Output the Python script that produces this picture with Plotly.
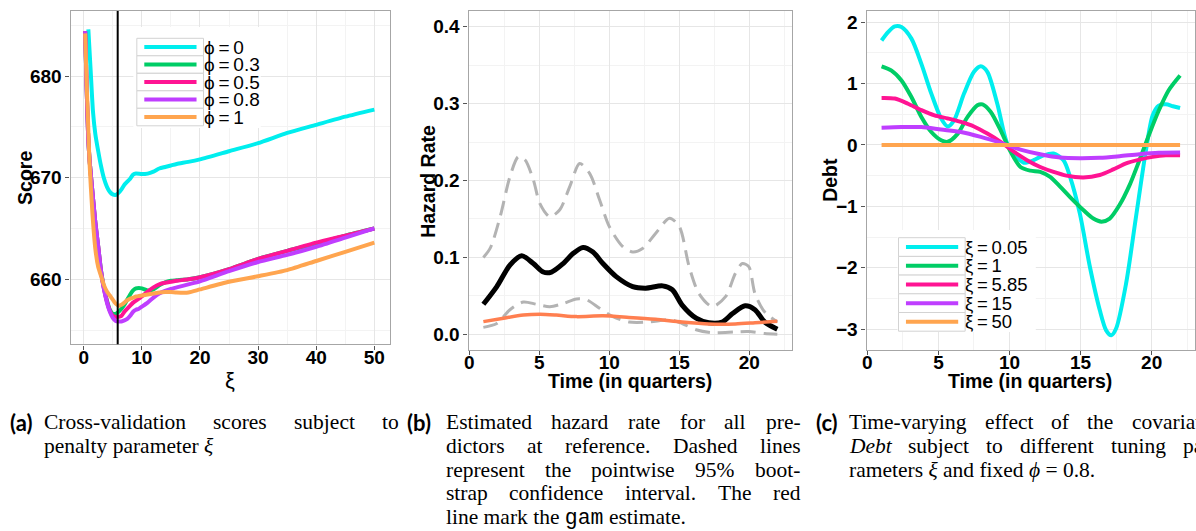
import plotly.graph_objects as go

W, H = 1196, 531

# ---------------- (a) cross-validation scores ----------------
xi_grid = [0.25, 0.5, 0.75, 1.0, 1.5, 2.0, 2.5, 3.0, 3.5, 4.0, 4.5, 5.0, 5.5, 6.0, 6.5,
           7.0, 7.5, 8.0, 8.5, 9.0, 9.5, 10, 11, 12, 13, 14, 15, 16, 18, 20,
           25, 30, 35, 40, 45, 50]
score_phi03 = [684.4, 679.0, 674.4, 671.8, 668.6, 665.6, 663.2, 660.8, 659.1, 657.9, 657.0,
               656.6, 656.6, 656.8, 657.1, 657.5, 658.0, 658.5, 658.9, 659.1, 659.15, 659.1,
               658.9, 659.0, 659.4, 659.7, 659.85, 659.9, 660.0, 660.2,
               661.0, 662.0, 662.8, 663.5, 664.3, 665.0]
score_phi05 = [684.4, 679.0, 674.4, 671.8, 668.6, 665.6, 663.2, 660.7, 659.0, 657.8, 656.9,
               656.4, 656.3, 656.3, 656.4, 656.8, 657.1, 657.4, 657.7, 657.9, 658.1, 658.3,
               658.8, 659.2, 659.5, 659.65, 659.75, 659.85, 660.0, 660.2,
               661.0, 662.0, 662.8, 663.6, 664.3, 665.0]
score_phi08 = [684.4, 679.0, 674.4, 671.8, 668.6, 665.6, 663.2, 660.7, 659.0, 657.7, 656.8,
               656.2, 655.9, 655.85, 655.85, 655.95, 656.1, 656.4, 656.8, 657.0, 657.1, 657.3,
               657.7, 658.2, 658.6, 658.85, 659.05, 659.2, 659.5, 659.8,
               660.8, 661.7, 662.4, 663.2, 664.1, 665.0]
score_phi1 = [684.2, 679.5, 675.5, 671.5, 666.5, 663.0, 661.2, 660.3, 659.4, 658.8, 658.4,
              658.0, 657.6, 657.4, 657.5, 657.7, 657.95, 658.1, 658.2, 658.3, 658.35, 658.4,
              658.5, 658.6, 658.7, 658.75, 658.75, 658.7, 658.7, 659.0,
              659.75, 660.3, 660.9, 661.8, 662.7, 663.6]
xi_phi0 = [0.8, 1.2, 1.6, 2.0, 2.5, 3.0, 3.5, 4.0, 4.5, 5.0, 5.5, 6.0, 6.5, 7.0, 7.5, 8.0,
           8.5, 9.0, 10, 11, 12, 13, 14, 15, 16, 18, 20, 25, 30, 35, 40, 45, 50]
score_phi0 = [684.6, 680.5, 676.5, 674.3, 672.6, 671.1, 669.9, 669.1, 668.6, 668.35, 668.3,
              668.5, 668.85, 669.3, 669.6, 669.9, 670.3, 670.4, 670.35, 670.4, 670.6, 670.9,
              671.05, 671.2, 671.35, 671.55, 671.8, 672.6, 673.4, 674.4, 675.2, 676.0, 676.7]
xi_selected = 5.85
phi_labels = ["ϕ\u2009=\u20090", "ϕ\u2009=\u20090.3", "ϕ\u2009=\u20090.5",
              "ϕ\u2009=\u20090.8", "ϕ\u2009=\u20091"]

# ---------------- (b) hazard rate ----------------
t_est = [1.0, 1.96, 2.9, 3.74, 4.57, 5.28, 5.87, 6.7, 7.4, 8.12, 8.83, 9.54, 10.49, 11.67,
         12.6, 13.8, 14.5, 15.2, 16.2, 17.1, 18.06, 18.8, 19.7, 20.4, 21.1, 22.0]
hz_est = [0.039, 0.062, 0.090, 0.102, 0.092, 0.081, 0.081, 0.092, 0.105, 0.113, 0.107,
          0.092, 0.075, 0.062, 0.060, 0.063, 0.058, 0.038, 0.021, 0.015, 0.016, 0.027,
          0.037, 0.032, 0.016, 0.0065]
t_up = [1.0, 1.49, 2.2, 2.9, 3.5, 3.97, 4.57, 5.04, 5.75, 6.46, 7.17, 7.88, 8.6, 9.3, 10.0,
        10.96, 11.67, 12.4, 13.3, 14.3, 15.0, 15.7, 16.4, 17.35, 18.3, 19.0, 19.5, 19.96,
        20.4, 21.1, 22.0]
hz_up = [0.100, 0.112, 0.153, 0.205, 0.231, 0.227, 0.201, 0.170, 0.153, 0.162, 0.192,
         0.222, 0.209, 0.175, 0.140, 0.114, 0.107, 0.112, 0.131, 0.151, 0.140, 0.088,
         0.053, 0.036, 0.049, 0.079, 0.092, 0.088, 0.053, 0.029, 0.016]
t_low = [1.0, 1.96, 2.9, 3.86, 4.8, 5.75, 6.7, 7.65, 8.36, 9.3, 10.25, 11.4, 12.85, 14.3,
         15.2, 16.2, 17.35, 19.0, 19.96, 21.1, 22.0]
hz_low = [0.009, 0.014, 0.032, 0.042, 0.039, 0.036, 0.040, 0.046, 0.045, 0.034, 0.023,
          0.016, 0.016, 0.019, 0.014, 0.006, 0.002, 0.003, 0.0035, 0.001, 0.0]
t_gam = [1.0, 2.44, 3.86, 5.04, 6.2, 7.65, 9.54, 11.4, 13.3, 15.2, 17.1, 19.0, 20.4, 22.0]
hz_gam = [0.0165, 0.021, 0.025, 0.026, 0.025, 0.023, 0.024, 0.022, 0.0195, 0.016, 0.0134,
          0.0134, 0.015, 0.017]

# ---------------- (c) time-varying Debt effect ----------------
t_x005 = [1.0, 1.47, 1.93, 2.4, 3.1, 3.8, 4.5, 5.19, 5.65, 6.1, 6.8, 7.5, 7.98, 8.44, 9.14,
          9.84, 10.5, 11.0, 11.7, 12.4, 13.1, 13.8, 14.26, 14.95, 15.65, 16.35, 16.8, 17.16,
          17.5, 18.2, 18.9, 19.6, 20.07, 20.5, 21.0, 21.5, 22.0]
debt_x005 = [1.70, 1.84, 1.93, 1.92, 1.73, 1.32, 0.835, 0.43, 0.30, 0.40, 0.835, 1.19, 1.28,
             1.19, 0.67, 0.02, -0.195, -0.29, -0.25, -0.17, -0.14, -0.25, -0.52, -1.12,
             -1.98, -2.69, -3.02, -3.10, -2.99, -2.26, -1.17, -0.087, 0.48, 0.64, 0.66, 0.63,
             0.60]
t_x1 = [1.0, 1.7, 2.4, 3.1, 3.8, 4.5, 5.19, 5.65, 6.35, 7.05, 7.74, 8.1, 8.67, 9.37, 10.07,
        10.77, 11.47, 12.16, 12.86, 13.56, 14.26, 15.19, 15.9, 16.47, 17.05, 17.74, 18.44,
        19.14, 19.84, 20.5, 21.2, 22.0]
debt_x1 = [1.28, 1.21, 1.05, 0.78, 0.455, 0.21, 0.076, 0.05, 0.18, 0.455, 0.645, 0.66, 0.54,
           0.24, -0.11, -0.36, -0.42, -0.44, -0.52, -0.68, -0.85, -1.06, -1.20, -1.25, -1.20,
           -0.98, -0.66, -0.25, 0.18, 0.56, 0.89, 1.13]
t_x585 = [1.0, 1.93, 2.86, 3.8, 4.72, 5.65, 6.58, 7.5, 8.44, 9.37, 10.3, 11.23, 12.16, 13.1,
          14.0, 15.2, 16.35, 17.3, 18.2, 19.14, 20.07, 21.0, 22.0]
debt_x585 = [0.765, 0.755, 0.67, 0.565, 0.48, 0.43, 0.374, 0.30, 0.184, 0.049, -0.11, -0.25,
             -0.36, -0.44, -0.50, -0.53, -0.49, -0.40, -0.30, -0.24, -0.195, -0.17, -0.17]
t_x15 = [1.0, 2.4, 3.8, 5.19, 6.58, 7.98, 9.37, 10.77, 12.16, 13.56, 14.95, 16.35, 17.74,
         19.14, 20.5, 22.0]
debt_x15 = [0.28, 0.29, 0.29, 0.25, 0.21, 0.13, 0.033, -0.076, -0.152, -0.206, -0.217, -0.21,
            -0.184, -0.152, -0.13, -0.125]
t_x50 = [1.0, 22.0]
debt_x50 = [0.0, 0.0]
xi_labels = ["ξ\u2009=\u20090.05", "ξ\u2009=\u20091", "ξ\u2009=\u20095.85",
             "ξ\u2009=\u200915", "ξ\u2009=\u200950"]

COLORS = ["#00EEEE", "#00CD66", "#FF1493", "#BF3EFF", "#FFA54F"]
CORAL = "#FF7F50"
CI_GREY = "#B3B3B3"

fig = go.Figure()

# panel (a)
series_a = [(xi_phi0, score_phi0), (xi_grid, score_phi03), (xi_grid, score_phi05),
            (xi_grid, score_phi08), (xi_grid, score_phi1)]
for (xs, ys), col in zip(series_a, COLORS):
    fig.add_trace(go.Scatter(x=xs, y=ys, mode="lines", xaxis="x", yaxis="y",
                             line=dict(color=col, width=4, shape="spline", smoothing=0.6)))

# panel (b)
for ts, hs in [(t_up, hz_up), (t_low, hz_low)]:
    fig.add_trace(go.Scatter(x=ts, y=hs, mode="lines", xaxis="x2", yaxis="y2",
                             line=dict(color=CI_GREY, width=3, dash="15px,8px",
                                       shape="spline", smoothing=0.8)))
fig.add_trace(go.Scatter(x=t_est, y=hz_est, mode="lines", xaxis="x2", yaxis="y2",
                         line=dict(color="black", width=5, shape="spline", smoothing=0.8)))
fig.add_trace(go.Scatter(x=t_gam, y=hz_gam, mode="lines", xaxis="x2", yaxis="y2",
                         line=dict(color=CORAL, width=3.5, shape="spline", smoothing=0.8)))

# panel (c)
series_c = [(t_x005, debt_x005), (t_x1, debt_x1), (t_x585, debt_x585),
            (t_x15, debt_x15), (t_x50, debt_x50)]
for (ts, ds), col in zip(series_c, COLORS):
    fig.add_trace(go.Scatter(x=ts, y=ds, mode="lines", xaxis="x3", yaxis="y3",
                             line=dict(color=col, width=4, shape="spline", smoothing=0.8)))


def px(x):
    return x / W


def py(y):
    return 1 - y / H


GRID = "#E6E6E6"
MINOR = "#F3F3F3"
FRAME = "#A6A6A6"
TICKFONT = dict(family="Liberation Sans", size=19, color="black", weight="bold")


def axis(domain, rng, tickvals, minor_dtick, standoff, fmt=None):
    d = dict(domain=domain, range=rng, tickvals=tickvals, showgrid=True, gridcolor=GRID,
             gridwidth=1.4, zeroline=False, showline=True, mirror=True, linecolor=FRAME,
             linewidth=1.4, ticks="outside", ticklen=4, tickwidth=1.2, tickcolor="#555555",
             tickfont=TICKFONT, ticklabelstandoff=standoff,
             minor=dict(dtick=minor_dtick, tick0=0, showgrid=True, gridcolor=MINOR,
                        gridwidth=1, ticks=""))
    if fmt:
        d["tickformat"] = fmt
    return d


fig.update_layout(
    width=W, height=H, margin=dict(l=0, r=0, t=0, b=0),
    paper_bgcolor="white", plot_bgcolor="white", showlegend=False,
    xaxis=axis([px(66), px(387)], [-2.24, 52.7], [0, 10, 20, 30, 40, 50], 5, -8),
    yaxis=axis([py(344.3), py(11)], [653.6, 686.4], [660, 670, 680], 5, 0),
    xaxis2=axis([px(466), px(791)], [-0.05, 23.05], [0, 5, 10, 15, 20], 2.5, -9),
    yaxis2=axis([py(350), py(11)], [-0.0204, 0.4204], [0, 0.1, 0.2, 0.3, 0.4], 0.05, 0,
                ".1f"),
    xaxis3=axis([px(866), 1.0], [-0.05, 23.05], [0, 5, 10, 15, 20], 2.5, -9),
    yaxis3=axis([py(350), py(11)], [-3.34, 2.18], [-3, -2, -1, 0, 1, 2], 0.5, 0),
)
fig.layout.yaxis.anchor = "x"
fig.layout.xaxis.anchor = "y"
fig.layout.xaxis2.anchor = "y2"
fig.layout.yaxis2.anchor = "x2"
fig.layout.xaxis3.anchor = "y3"
fig.layout.yaxis3.anchor = "x3"

shapes = []
annotations = []

# chosen penalty parameter
shapes.append(dict(type="line", xref="x", yref="y domain", x0=xi_selected, x1=xi_selected,
                   y0=0, y1=1, line=dict(color="black", width=2)))


def legend(bg, box_x0, box_x1, top, row_h, labels, fsize):
    shapes.append(dict(type="rect", xref="paper", yref="paper", x0=px(bg[0]), x1=px(bg[1]),
                       y0=py(bg[3]), y1=py(bg[2]), fillcolor="white", line=dict(width=0)))
    for i, (lab, col) in enumerate(zip(labels, COLORS)):
        y0 = top + i * row_h
        shapes.append(dict(type="rect", xref="paper", yref="paper", x0=px(box_x0),
                           x1=px(box_x1), y0=py(y0 + row_h), y1=py(y0), fillcolor="white",
                           line=dict(color="#D3D3D3", width=1)))
        yc = y0 + row_h / 2
        shapes.append(dict(type="line", xref="paper", yref="paper", x0=px(box_x0 + 7.5),
                           x1=px(box_x1 - 7), y0=py(yc), y1=py(yc),
                           line=dict(color=col, width=4)))
        annotations.append(dict(xref="paper", yref="paper", x=px(box_x1 - 1), y=py(yc),
                                xanchor="left", yanchor="middle", showarrow=False, text=lab,
                                borderpad=0, font=dict(family="Liberation Sans", size=fsize,
                                                       color="black")))


legend((129, 257, 27, 128), 132.5, 199.5, 38.3, 17.5, phi_labels, 19)
legend((897, 1036, 230, 332), 898, 965, 237.7, 18.7, xi_labels, 18.5)

# axis titles
TITLE = dict(family="Liberation Sans", size=19.5, color="black", weight="bold")
annotations += [
    dict(xref="paper", yref="paper", x=px(19.5), y=py(177.5), text="Score", textangle=-90,
         showarrow=False, font=TITLE, xanchor="center", yanchor="middle"),
    dict(xref="paper", yref="paper", x=px(226), y=py(380), text="ξ", showarrow=False,
         font=dict(family="Liberation Sans", size=22, color="black"),
         xanchor="center", yanchor="middle"),
    dict(xref="paper", yref="paper", x=px(425), y=py(181), text="Hazard Rate",
         textangle=-90, showarrow=False, font=TITLE, xanchor="center", yanchor="middle"),
    dict(xref="paper", yref="paper", x=px(628.5), y=py(381), text="Time (in quarters)",
         showarrow=False, font=TITLE, xanchor="center", yanchor="middle"),
    dict(xref="paper", yref="paper", x=px(829), y=py(180), text="Debt", textangle=-90,
         showarrow=False, font=TITLE, xanchor="center", yanchor="middle"),
    dict(xref="paper", yref="paper", x=px(1030.5), y=py(381), text="Time (in quarters)",
         showarrow=False, font=TITLE, xanchor="center", yanchor="middle"),
]

# ---------------- sub-figure captions (justified paragraphs) ----------------
CAP_SIZE = 21.5
CAP = dict(family="Liberation Serif", size=CAP_SIZE, color="black")
TAG = dict(family="Lato", size=22, color="black", weight="bold")
TEXT_SHIFT = -5  # annotation boxes carry a few px of inner padding
TAG_SHIFT = -2

# approximate serif advance widths (per 1000 em) used to space justified words
SERIF_W = {
    " ": 250, "a": 444, "b": 500, "c": 444, "d": 500, "e": 444, "f": 333, "g": 500,
    "h": 500, "i": 278, "j": 278, "k": 500, "l": 278, "m": 778, "n": 500, "o": 500,
    "p": 500, "q": 500, "r": 333, "s": 389, "t": 278, "u": 500, "v": 500, "w": 722,
    "x": 500, "y": 500, "z": 444, "C": 667, "D": 722, "E": 611, "T": 611, "-": 333,
    ".": 250, "%": 833, "=": 564, "(": 333, ")": 333, "ξ": 440, "ϕ": 520,
}


def word_width(word):
    return sum(SERIF_W.get(ch, 500) for ch in word) * CAP_SIZE / 1000


def caption_line(words, x_left, x_right, y, justify):
    """Lay out one caption line, spreading the words over [x_left, x_right]."""
    plain = [w.replace("<i>", "").replace("</i>", "") for w in words]
    if not justify:
        annotations.append(dict(xref="paper", yref="paper", x=px(x_left + TEXT_SHIFT),
                                y=py(y), text=" ".join(words), showarrow=False,
                                xanchor="left", yanchor="middle", font=CAP))
        return
    widths = [word_width(w) for w in plain]
    gap = (x_right - x_left - sum(widths)) / (len(words) - 1)
    x = x_left
    for w, wd in zip(words, widths):
        annotations.append(dict(xref="paper", yref="paper", x=px(x + TEXT_SHIFT), y=py(y),
                                text=w, showarrow=False, xanchor="left", yanchor="middle",
                                font=CAP))
        x += wd + gap


MONO = '<span style="font-family:Liberation Mono">gam</span>'
captions = [
    (5, 41.7, 399, "(a)", [
        ("Cross-validation scores subject to", True),
        ("penalty parameter <i>ξ</i>", False)]),
    (404, 446, 802, "(b)", [
        ("Estimated hazard rate for all pre-", True),
        ("dictors at reference. Dashed lines", True),
        ("represent the pointwise 95% boot-", True),
        ("strap confidence interval. The red", True),
        ("line mark the " + MONO + " estimate.", False)]),
    (815, 851, 1214, "(c)", [
        ("Time-varying effect of the covariate", True),
        ("<i>Debt</i> subject to different tuning pa-", True),
        ("rameters <i>ξ</i> and fixed <i>ϕ</i> = 0.8.", False)]),
]
LINE_Y0, LINE_STEP = 422, 23.8
for tag_x, left, right, tag, lines in captions:
    annotations.append(dict(xref="paper", yref="paper", x=px(tag_x + TAG_SHIFT),
                            y=py(LINE_Y0), text=tag, showarrow=False, xanchor="left",
                            yanchor="middle", font=TAG))
    for i, (line, justify) in enumerate(lines):
        caption_line(line.split(" "), left, right, LINE_Y0 + i * LINE_STEP, justify)

fig.update_layout(shapes=shapes, annotations=annotations)
fig.write_html("out.html")
